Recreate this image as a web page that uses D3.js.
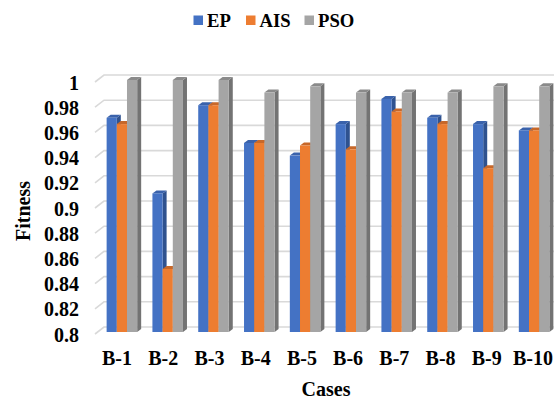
<!DOCTYPE html>
<html>
<head>
<meta charset="utf-8">
<script src="https://cdn.jsdelivr.net/npm/d3@7"></script>
<style>
  html, body { margin: 0; padding: 0; background: #fff; }
  svg text { font-family: "Liberation Serif", "Times New Roman", serif; font-weight: bold; fill: #000; }
</style>
</head>
<body>
<svg id="chart" width="554" height="401"></svg>
<script>
const categories = ["B-1","B-2","B-3","B-4","B-5","B-6","B-7","B-8","B-9","B-10"];
const seriesNames = ["EP","AIS","PSO"];
const epValues  = [0.97, 0.91, 0.98, 0.95, 0.94, 0.965, 0.985, 0.97, 0.965, 0.96];
const aisValues = [0.965, 0.85, 0.98, 0.95, 0.948, 0.945, 0.975, 0.965, 0.93, 0.96];
const psoValues = [1.0, 1.0, 1.0, 0.99, 0.995, 0.99, 0.99, 0.99, 0.995, 0.995];
const yTicks = [0.8, 0.82, 0.84, 0.86, 0.88, 0.9, 0.92, 0.94, 0.96, 0.98, 1];
const tickLabels = ["0.8","0.82","0.84","0.86","0.88","0.9","0.92","0.94","0.96","0.98","1"];

const seriesValues = [epValues, aisValues, psoValues];
const colors = {
  front: ["#4472C4", "#ED7D31", "#A5A5A5"],
  side:  ["#2F528F", "#AE5A21", "#737373"],
  top:   ["#3A62AB", "#C7682A", "#8A8A8A"]
};

const svg = d3.select("#chart");

// front floor scale (where tick labels sit)
const yFloor = d3.scaleLinear().domain([0.8, 1.0]).range([334, 82]);
const wallDX = 9, wallDY = -7;      // depth of the back wall
const barDX = 4, barDY = -3;        // bar depth
const barShiftY = -2;               // bar front vs floor front

const x0 = d3.scaleBand().domain(categories).range([99, 557])
  .paddingInner(0.333).paddingOuter(0.1665);
const x1 = d3.scaleBand().domain(seriesNames).range([0, x0.bandwidth()]);
const xLabel = d3.scalePoint().domain(categories).range([117, 533]);

// gridlines
const grid = svg.append("g");
yTicks.forEach(v => {
  const yf = yFloor(v);
  grid.append("polyline")
    .attr("points", `95,${yf} ${95 + wallDX},${yf + wallDY} 554,${yf + wallDY}`)
    .attr("fill", "none").attr("stroke", "#D9D9D9").attr("stroke-width", 1.6);
});

// y tick labels
svg.append("g").selectAll("text").data(yTicks).join("text")
  .attr("x", 79).attr("y", d => yFloor(d) + 7.5)
  .attr("text-anchor", "end").attr("font-size", "20px")
  .text((d, i) => tickLabels[i]);

// bars
const yBar = v => yFloor(v) + barShiftY;
const bars = svg.append("g");
categories.forEach((c, ci) => {
  seriesNames.forEach((s, si) => {
    const v = seriesValues[si][ci];
    const x = x0(c) + x1(s);
    const w = x1.bandwidth();
    const yt = yBar(v), yb = yBar(0.8);
    const g = bars.append("g");
    g.append("polygon")
      .attr("points", `${x + w},${yt} ${x + w + barDX},${yt + barDY} ${x + w + barDX},${yb + barDY} ${x + w},${yb}`)
      .attr("fill", colors.side[si]);
    g.append("polygon")
      .attr("points", `${x},${yt} ${x + w},${yt} ${x + w + barDX},${yt + barDY} ${x + barDX},${yt + barDY}`)
      .attr("fill", colors.top[si]);
    g.append("rect")
      .attr("x", x).attr("y", yt).attr("width", w).attr("height", yb - yt)
      .attr("fill", colors.front[si]);
  });
});

// category labels
svg.append("g").selectAll("text").data(categories).join("text")
  .attr("x", d => xLabel(d))
  .attr("y", 365)
  .attr("text-anchor", "middle").attr("font-size", "20px")
  .text(d => d);

// axis titles
svg.append("text").attr("x", 326).attr("y", 396)
  .attr("text-anchor", "middle").attr("font-size", "20px").text("Cases");
svg.append("text").attr("transform", "translate(30,211) rotate(-90)")
  .attr("text-anchor", "middle").attr("font-size", "20px").text("Fitness");

// legend
const legendX = [193.5, 246, 304.5];
const legend = svg.append("g");
seriesNames.forEach((s, i) => {
  legend.append("rect").attr("x", legendX[i]).attr("y", 15.5)
    .attr("width", 9.5).attr("height", 9.5).attr("fill", colors.front[i]);
  legend.append("text").attr("x", legendX[i] + 13.5).attr("y", 27)
    .attr("font-size", "18.67px").text(s);
});
</script>
</body>
</html>
